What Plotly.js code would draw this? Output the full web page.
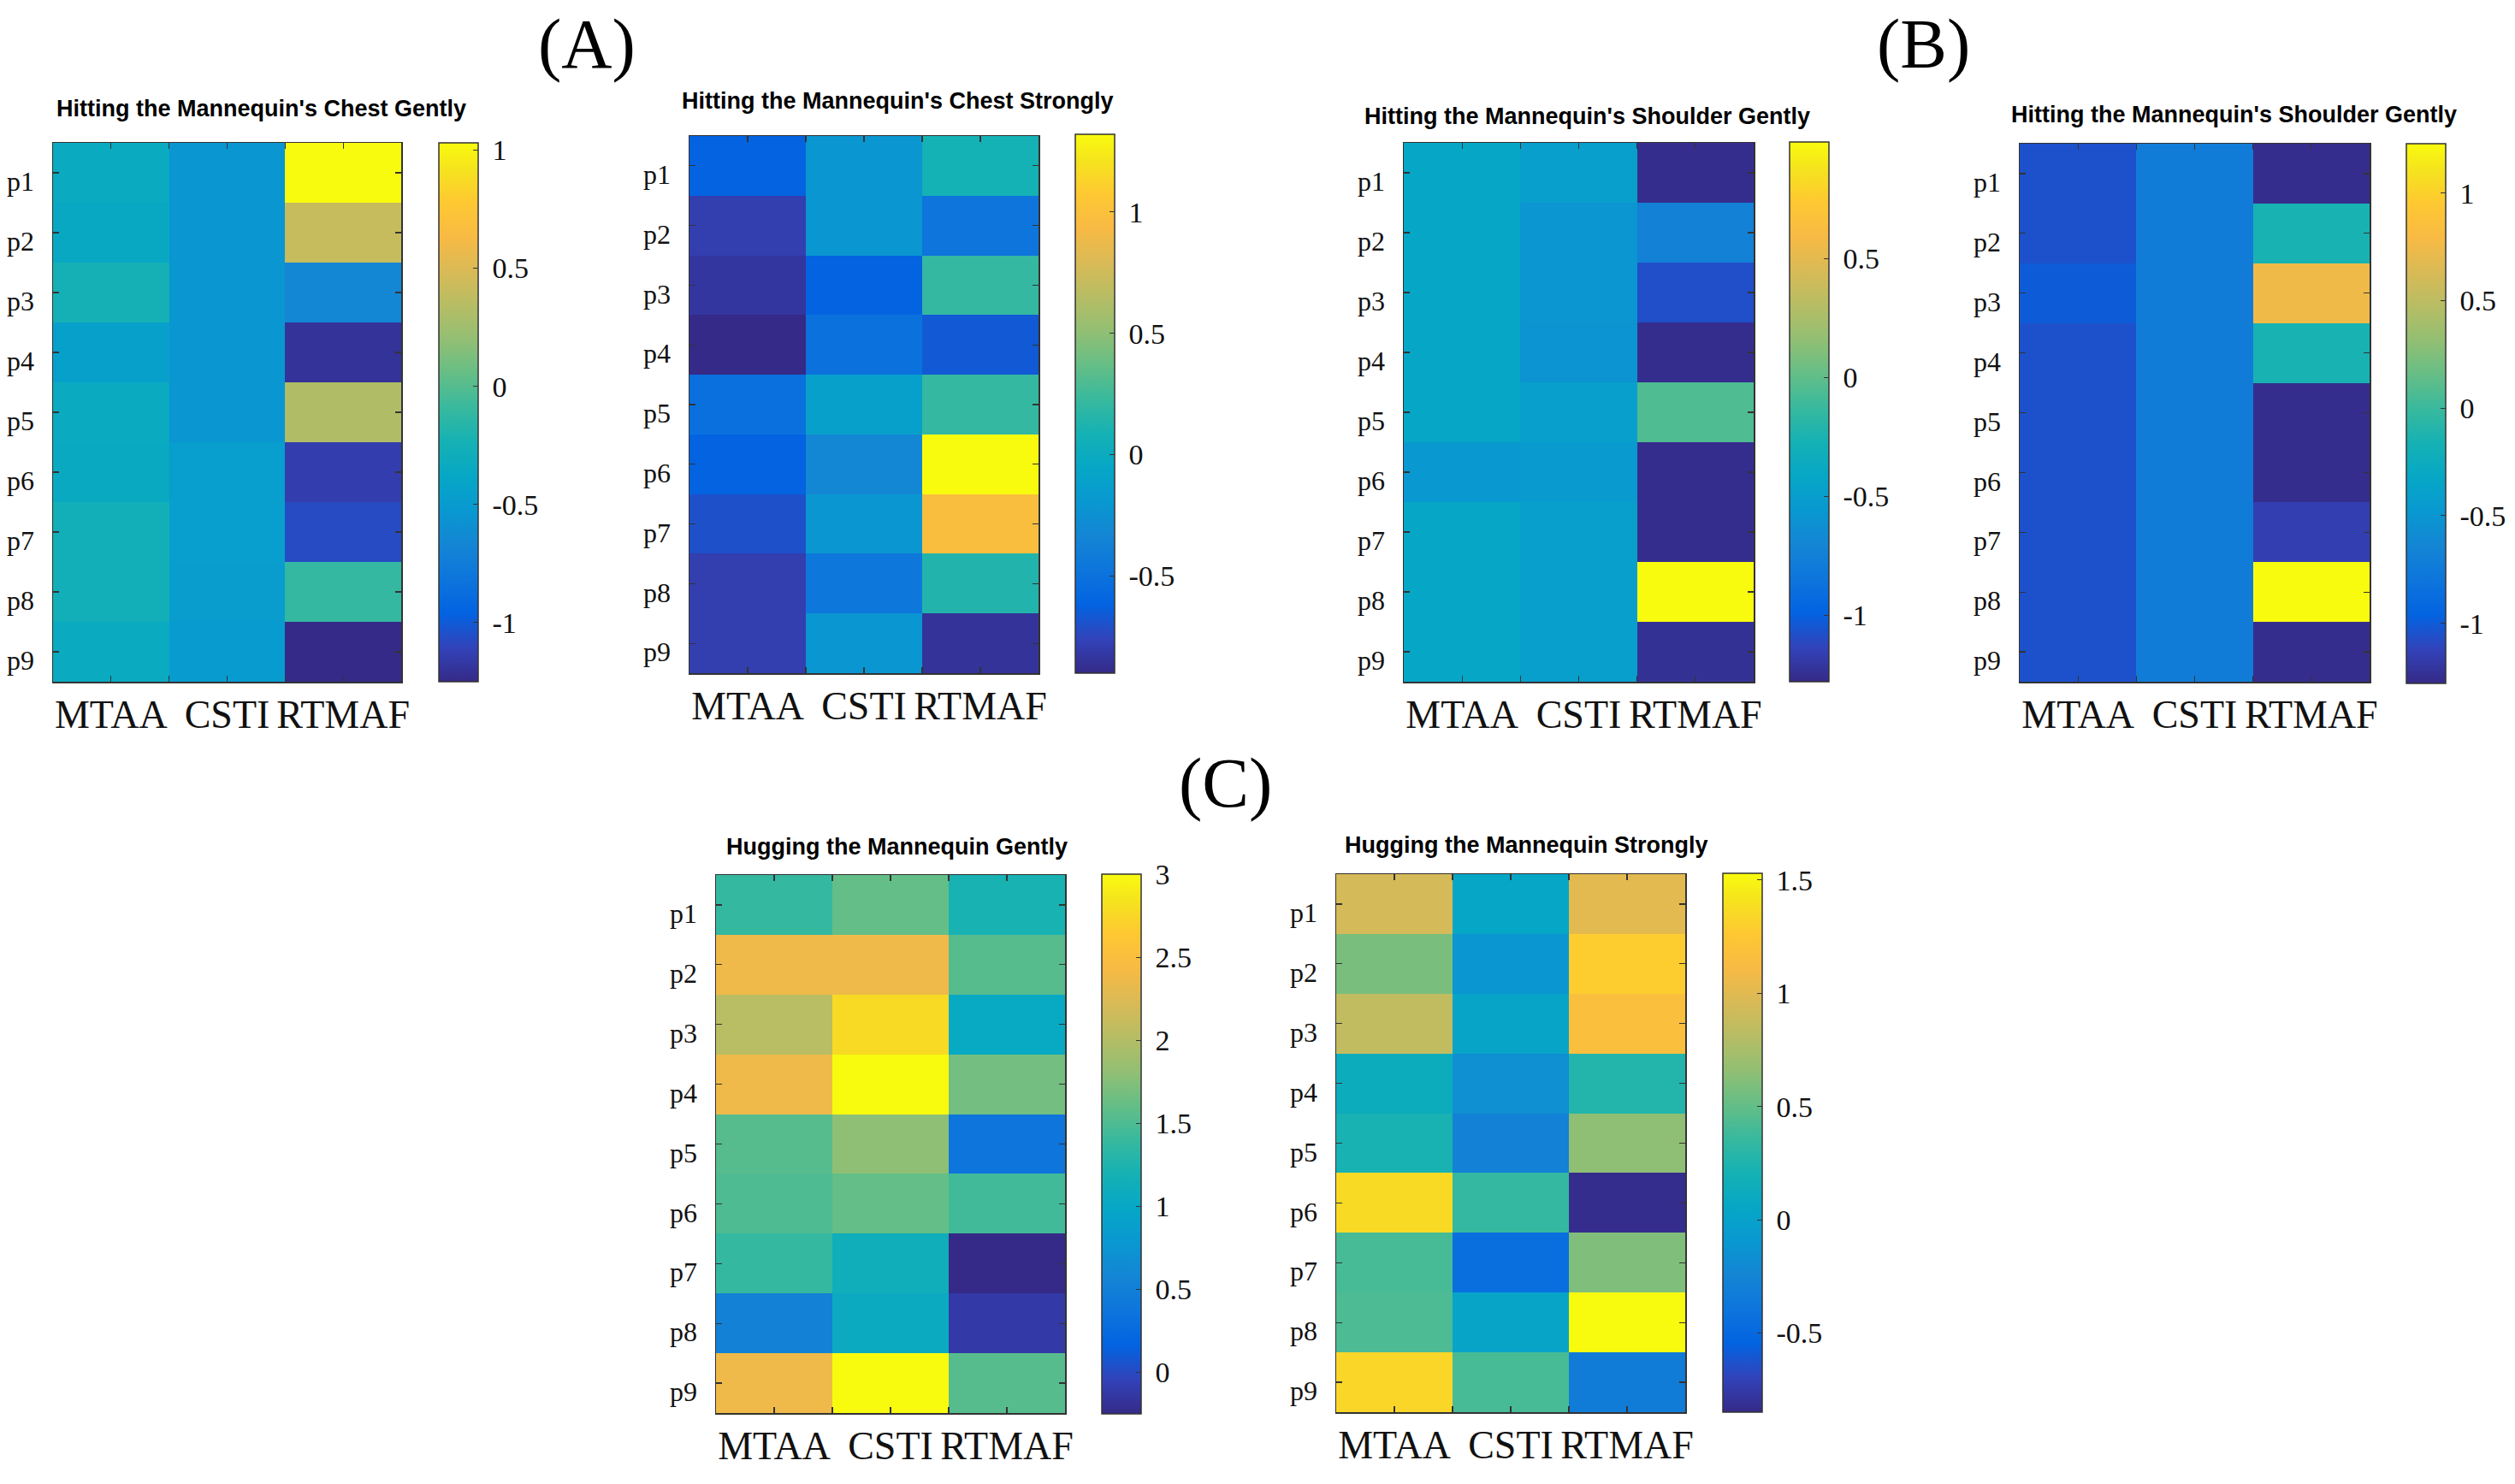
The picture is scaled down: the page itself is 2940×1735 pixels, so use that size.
<!DOCTYPE html>
<html>
<head>
<meta charset="utf-8">
<script src="https://cdn.plot.ly/plotly-3.0.1.min.js"></script>
<style>html,body{margin:0;padding:0;background:#fff;}#chart{width:2940px;height:1735px;}</style>
</head>
<body>
<div id="chart"></div>
<script>
// ---- data ----
const methods = ['MTAA', 'CSTI', 'RTMAF'];
const participants = ['p1', 'p2', 'p3', 'p4', 'p5', 'p6', 'p7', 'p8', 'p9'];

const titles = [
  "Hitting the Mannequin's Chest Gently",
  "Hitting the Mannequin's Chest Strongly",
  "Hitting the Mannequin's Shoulder Gently",
  "Hitting the Mannequin's Shoulder Gently",
  "Hugging the Mannequin Gently",
  "Hugging the Mannequin Strongly"
];
const panelLabels = ['(A)', '(B)', '(C)'];

// rows p1..p9, columns MTAA, CSTI, RTMAF
const chestGently = [
  [-0.34, -0.54, 1.03],
  [-0.36, -0.54, 0.41],
  [-0.25, -0.54, -0.66],
  [-0.45, -0.54, -1.20],
  [-0.34, -0.54, 0.32],
  [-0.35, -0.47, -1.14],
  [-0.27, -0.47, -1.07],
  [-0.27, -0.48, -0.11],
  [-0.34, -0.50, -1.25]
];
const chestStrongly = [
  [-0.62, -0.21, 0.08],
  [-0.79, -0.21, -0.48],
  [-0.83, -0.62, 0.21],
  [-0.90, -0.50, -0.66],
  [-0.52, -0.12, 0.21],
  [-0.62, -0.32, 1.32],
  [-0.70, -0.21, 0.97],
  [-0.79, -0.46, 0.14],
  [-0.79, -0.21, -0.85]
];
const shoulderGentlyB1 = [
  [-0.42, -0.49, -1.26],
  [-0.42, -0.58, -0.74],
  [-0.42, -0.58, -1.08],
  [-0.42, -0.60, -1.26],
  [-0.42, -0.49, -0.05],
  [-0.55, -0.54, -1.26],
  [-0.42, -0.49, -1.26],
  [-0.42, -0.49, 0.99],
  [-0.42, -0.49, -1.24]
];
const shoulderGentlyB2 = [
  [-1.05, -0.73, -1.26],
  [-1.05, -0.73, -0.15],
  [-1.00, -0.73, 0.75],
  [-1.05, -0.73, -0.15],
  [-1.05, -0.73, -1.26],
  [-1.05, -0.73, -1.26],
  [-1.05, -0.73, -1.15],
  [-1.05, -0.73, 1.23],
  [-1.05, -0.73, -1.26]
];
const huggingGently = [
  [1.38, 1.60, 1.21],
  [2.37, 2.37, 1.54],
  [2.03, 2.77, 1.02],
  [2.37, 3.00, 1.67],
  [1.54, 1.80, 0.37],
  [1.50, 1.60, 1.44],
  [1.38, 1.12, -0.25],
  [0.53, 1.05, -0.12],
  [2.37, 3.00, 1.54]
];
const huggingStrongly = [
  [0.94, 0.05, 1.01],
  [0.58, -0.11, 1.29],
  [0.86, 0.03, 1.17],
  [0.13, -0.16, 0.27],
  [0.22, -0.28, 0.65],
  [1.36, 0.34, -0.83],
  [0.41, -0.45, 0.60],
  [0.43, 0.03, 1.53],
  [1.34, 0.41, -0.33]
];

const zRanges = [
  [-1.25, 1.03],
  [-0.90, 1.32],
  [-1.28, 0.99],
  [-1.28, 1.23],
  [-0.25, 3.00],
  [-0.85, 1.53]
];
const cbTicks = [
  [-1, -0.5, 0, 0.5, 1],
  [-0.5, 0, 0.5, 1],
  [-1, -0.5, 0, 0.5],
  [-1, -0.5, 0, 0.5, 1],
  [0, 0.5, 1, 1.5, 2, 2.5, 3],
  [-0.5, 0, 0.5, 1, 1.5]
];
const allData = [chestGently, chestStrongly, shoulderGentlyB1, shoulderGentlyB2, huggingGently, huggingStrongly];

// ---- styling / layout ----
const W = 2940, H = 1735;
// parula colour map (sampled every 4th of 64 entries)
const parulaRGB = [
  [53, 42, 135], [50, 67, 186], [3, 99, 225], [13, 117, 220], [20, 133, 212],
  [9, 152, 209], [6, 167, 198], [21, 177, 180], [56, 185, 158], [101, 190, 134],
  [146, 191, 115], [183, 189, 100], [217, 186, 86], [248, 186, 68], [254, 200, 50],
  [245, 228, 29], [249, 251, 14]
];
const parulaPos = [0, 4, 8, 12, 16, 20, 24, 28, 32, 36, 40, 44, 48, 52, 56, 60, 63];
const parula = parulaRGB.map((c, i) => [parulaPos[i] / 63, 'rgb(' + c.join(',') + ')']);

// pixel boxes: heatmap [x0,x1,y0,y1], colorbar [x0,x1,y0,y1], title [cx, cy]
const boxes = [
  {hm: [62, 469, 167, 797], cb: [513, 559, 167, 797], t: [305, 127]},
  {hm: [806, 1214, 159, 787], cb: [1257, 1303, 157, 787], t: [1049, 118]},
  {hm: [1641, 2050, 167, 797], cb: [2092, 2138, 166, 797], t: [1856, 136]},
  {hm: [2361, 2770, 168, 797], cb: [2813, 2859, 168, 799], t: [2611, 134]},
  {hm: [837, 1245, 1023, 1652], cb: [1288, 1334, 1022, 1653], t: [1048, 990]},
  {hm: [1562, 1970, 1022, 1651], cb: [2014, 2060, 1021, 1651], t: [1784, 988]}
];
const labelPos = [[686, 52], [2248, 52], [1432, 915]];

const serif = 'Liberation Serif, Times New Roman, serif';
const sans = 'Liberation Sans, Arial, sans-serif';
const xIdx = methods.map((m, i) => i + 1);
const yIdx = participants.map((p, i) => i + 1);

const traces = [];
const layout = {
  width: W, height: H,
  margin: {l: 0, r: 0, t: 0, b: 0},
  paper_bgcolor: '#fff', plot_bgcolor: '#fff',
  showlegend: false,
  annotations: []
};

boxes.forEach((b, k) => {
  const n = k === 0 ? '' : String(k + 1);
  const cb = b.cb;
  traces.push({
    type: 'heatmap',
    x: xIdx, y: yIdx, z: allData[k],
    xaxis: 'x' + n, yaxis: 'y' + n,
    zmin: zRanges[k][0], zmax: zRanges[k][1],
    colorscale: parula,
    hoverinfo: 'skip',
    colorbar: {
      x: cb[0] / W, xanchor: 'left', xpad: 0,
      y: 1 - cb[2] / H, yanchor: 'top', ypad: 0,
      len: cb[3] - cb[2], lenmode: 'pixels',
      thickness: cb[1] - cb[0], thicknessmode: 'pixels',
      outlinewidth: 1.5, outlinecolor: '#333',
      ticks: 'inside', ticklen: 6, tickcolor: '#333',
      tickvals: cbTicks[k],
      ticktext: cbTicks[k].map(v => '\u00a0' + String(v)),
      tickfont: {family: serif, size: 34, color: '#111'}
    }
  });
  layout['xaxis' + n] = {
    domain: [b.hm[0] / W, b.hm[1] / W],
    anchor: 'y' + n,
    range: [0.5, 3.5],
    tickvals: xIdx, ticktext: methods, tickangle: 0,
    ticks: 'inside', ticklen: 7, tickcolor: '#333', tickwidth: 1.2,
    minor: {ticks: 'inside', ticklen: 7, tickcolor: '#333', dtick: 0.5, tick0: 0.5},
    showline: true, linecolor: '#333', linewidth: 1.5, mirror: 'ticks',
    showgrid: false, zeroline: false, fixedrange: true,
    ticklabelstandoff: -3,
    tickfont: {family: serif, size: 46, color: '#111'}
  };
  layout['yaxis' + n] = {
    domain: [1 - b.hm[3] / H, 1 - b.hm[2] / H],
    anchor: 'x' + n,
    range: [9.5, 0.5],
    tickvals: yIdx, ticktext: participants,
    ticks: 'inside', ticklen: 7, tickcolor: '#333', tickwidth: 1.2,
    showline: true, linecolor: '#333', linewidth: 1.5, mirror: 'ticks',
    showgrid: false, zeroline: false, fixedrange: true,
    ticklabelstandoff: 14,
    ticklabelshift: -10,
    tickfont: {family: serif, size: 32, color: '#111'}
  };
  layout.annotations.push({
    xref: 'paper', yref: 'paper',
    x: b.t[0] / W, y: 1 - b.t[1] / H,
    xanchor: 'center', yanchor: 'middle',
    text: '<b>' + titles[k] + '</b>', showarrow: false,
    font: {family: sans, size: 27, color: '#000'}
  });
});

panelLabels.forEach((lab, i) => {
  layout.annotations.push({
    xref: 'paper', yref: 'paper',
    x: labelPos[i][0] / W, y: 1 - labelPos[i][1] / H,
    xanchor: 'center', yanchor: 'middle',
    text: lab, showarrow: false,
    font: {family: serif, size: 82, color: '#000'}
  });
});

Plotly.newPlot('chart', traces, layout, {displayModeBar: false, staticPlot: true});
</script>
</body>
</html>
